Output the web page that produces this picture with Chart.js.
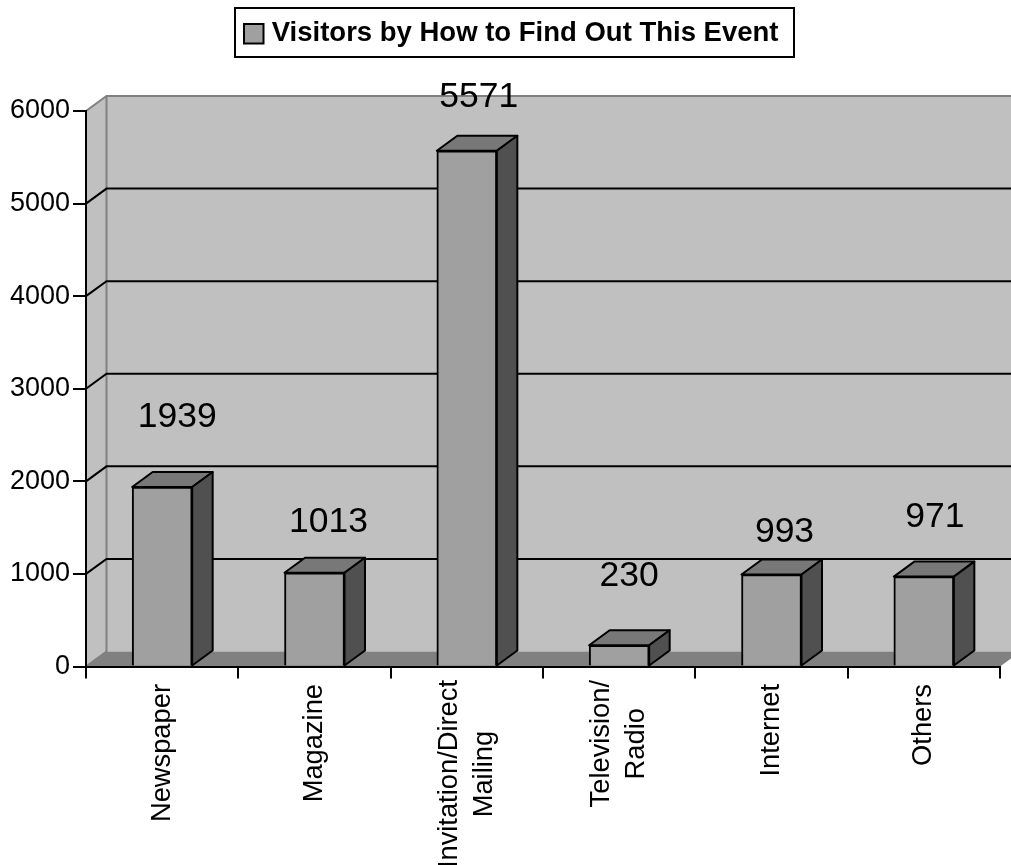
<!DOCTYPE html>
<html>
<head>
<meta charset="utf-8">
<style>
body { margin: 0; background: #fff; }
canvas { display: block; }
</style>
<script src="https://cdn.jsdelivr.net/npm/chart.js@4"></script>
</head>
<body>
<canvas id="myChart" width="1011" height="865"></canvas>
<script>
const categories = [
    'Newspaper',
    'Magazine',
    ['Invitation/Direct', 'Mailing'],
    ['Television/', 'Radio'],
    'Internet',
    'Others'
];
const visitors = [1939, 1013, 5571, 230, 993, 971];
const yTicks = [0, 1000, 2000, 3000, 4000, 5000, 6000];
const seriesName = 'Visitors by How to Find Out This Event';

// 3D look of the old chart
const depthX = 20.5;
const depthY = 15;
const wallRight = 1011;
// value labels float at uneven spots above the bars in the original
const labelShift = [[15, -70], [14, -51], [12, -53.4], [10, -69], [13, -42], [11, -59]];
// legend sits right of centre in the original
const legendShift = 14;

const chart3d = {
    id: 'chart3d',
    afterLayout(chart) {
        chart.legend.left += legendShift;
        chart.legend.right += legendShift;
    },
    beforeDraw(chart) {
        const ctx = chart.ctx;
        const { left, right, top, bottom } = chart.chartArea;
        const y = chart.scales.y;
        ctx.save();
        // walls
        ctx.fillStyle = '#c0c0c0';
        ctx.beginPath();
        ctx.moveTo(left, bottom);
        ctx.lineTo(left, top);
        ctx.lineTo(left + depthX, top - depthY);
        ctx.lineTo(wallRight, top - depthY);
        ctx.lineTo(wallRight, bottom - depthY);
        ctx.lineTo(left + depthX, bottom - depthY);
        ctx.closePath();
        ctx.fill();
        // floor
        ctx.fillStyle = '#808080';
        ctx.beginPath();
        ctx.moveTo(left, bottom);
        ctx.lineTo(left + depthX, bottom - depthY);
        ctx.lineTo(wallRight, bottom - depthY);
        ctx.lineTo(wallRight, bottom - depthY * (wallRight - right) / depthX);
        ctx.lineTo(right, bottom);
        ctx.closePath();
        ctx.fill();
        // wall edges
        ctx.strokeStyle = '#808080';
        ctx.lineWidth = 2;
        ctx.beginPath();
        ctx.moveTo(left, top);
        ctx.lineTo(left + depthX, top - depthY);
        ctx.lineTo(wallRight, top - depthY);
        ctx.moveTo(left + depthX, top - depthY);
        ctx.lineTo(left + depthX, bottom - depthY);
        ctx.lineTo(left, bottom);
        ctx.stroke();
        // grid lines run along the side wall and the back wall
        ctx.strokeStyle = '#000';
        ctx.beginPath();
        yTicks.forEach((t) => {
            if (t === 0 || t === 6000) return;
            const py = y.getPixelForValue(t);
            ctx.moveTo(left, py);
            ctx.lineTo(left + depthX, py - depthY);
            ctx.lineTo(wallRight, py - depthY);
        });
        ctx.stroke();
        ctx.restore();

        // multi line category labels are centred on each other, the block hangs under the axis
        const xScale = chart.scales.x;
        const tickFont = xScale.options.ticks.font;
        const lineGap = tickFont.size * tickFont.lineHeight;
        ctx.save();
        ctx.font = tickFont.size + 'px ' + tickFont.family;
        xScale.getLabelItems(chart.chartArea).forEach((item, i) => {
            const lines = [].concat(item.label);
            const w = Math.max(...lines.map((l) => ctx.measureText(l).width));
            const labelTop = lines.length > 1 ? 680 : 684;
            item.options.textAlign = 'center';
            item.options.textBaseline = 'middle';
            item.options.translation[0] = xScale.getPixelForTick(i);
            item.options.translation[1] = labelTop + w / 2;
            item.textOffset = -(lines.length - 1) * lineGap / 2;
        });
        ctx.restore();
    },
    beforeDatasetsDraw(chart) {
        const ctx = chart.ctx;
        const bars = chart.getDatasetMeta(0).data;
        ctx.save();
        ctx.strokeStyle = '#000';
        ctx.lineWidth = 2;
        ctx.lineJoin = 'round';
        bars.forEach((bar) => {
            const l = bar.x - bar.width / 2;
            const r = bar.x + bar.width / 2;
            // top face
            ctx.fillStyle = '#787878';
            ctx.beginPath();
            ctx.moveTo(l, bar.y);
            ctx.lineTo(l + depthX, bar.y - depthY);
            ctx.lineTo(r + depthX, bar.y - depthY);
            ctx.lineTo(r, bar.y);
            ctx.closePath();
            ctx.fill();
            ctx.stroke();
            // side face
            ctx.fillStyle = '#505050';
            ctx.beginPath();
            ctx.moveTo(r, bar.y);
            ctx.lineTo(r + depthX, bar.y - depthY);
            ctx.lineTo(r + depthX, bar.base - depthY);
            ctx.lineTo(r, bar.base);
            ctx.closePath();
            ctx.fill();
            ctx.stroke();
        });
        ctx.restore();
    },
    afterDraw(chart) {
        const ctx = chart.ctx;
        const bars = chart.getDatasetMeta(0).data;
        ctx.save();
        // value labels
        ctx.fillStyle = '#000';
        ctx.font = '35.5px "Liberation Sans"';
        ctx.textAlign = 'center';
        ctx.textBaseline = 'middle';
        bars.forEach((bar, i) => {
            ctx.fillText(visitors[i], bar.x + labelShift[i][0], bar.y + labelShift[i][1]);
        });
        // frame round the legend
        ctx.strokeStyle = '#000';
        ctx.lineWidth = 2;
        ctx.strokeRect(235, 8, 559, 49);
        ctx.restore();
    }
};

const ctx = document.getElementById('myChart');
new Chart(ctx, {
    type: 'bar',
    data: {
        labels: categories,
        datasets: [{
            label: seriesName,
            data: visitors,
            backgroundColor: '#a0a0a0',
            borderColor: '#000',
            borderWidth: 2,
            barThickness: 60
        }]
    },
    plugins: [chart3d],
    options: {
        responsive: false,
        animation: false,
        layout: { padding: { left: 0, right: 11, top: 0, bottom: 0 } },
        plugins: {
            tooltip: { enabled: false },
            legend: {
                display: true,
                position: 'top',
                labels: {
                    color: '#000',
                    usePointStyle: true,
                    pointStyle: 'rect',
                    boxWidth: 8.5,
                    boxHeight: 19.5,
                    padding: 20,
                    font: { family: '"Liberation Sans"', size: 27.5, weight: 'bold' }
                }
            },
            // empty title only keeps the plot clear of the legend
            title: {
                display: true,
                text: ' ',
                weight: 500,
                font: { size: 1, lineHeight: 1 },
                padding: { top: 22, bottom: 30.5 }
            }
        },
        scales: {
            x: {
                afterFit(scale) { scale.height = 198.5; },
                grid: { drawOnChartArea: false, color: '#000', tickColor: '#000', tickLength: 12, lineWidth: 2 },
                border: { color: '#000', width: 2 },
                ticks: {
                    color: '#000',
                    minRotation: 90,
                    maxRotation: 90,
                    autoSkip: false,
                    font: { family: '"Liberation Sans"', size: 27.3, lineHeight: 1.3 }
                }
            },
            y: {
                min: 0,
                max: 6000,
                afterFit(scale) { scale.width = 86; },
                grid: { drawOnChartArea: false, color: '#000', tickColor: '#000', tickLength: 13, lineWidth: 2 },
                border: { color: '#000', width: 2 },
                ticks: {
                    stepSize: 1000,
                    color: '#000',
                    padding: 3,
                    callback: (v) => String(v),
                    font: { family: '"Liberation Sans"', size: 27 }
                }
            }
        }
    }
});
</script>
</body>
</html>
